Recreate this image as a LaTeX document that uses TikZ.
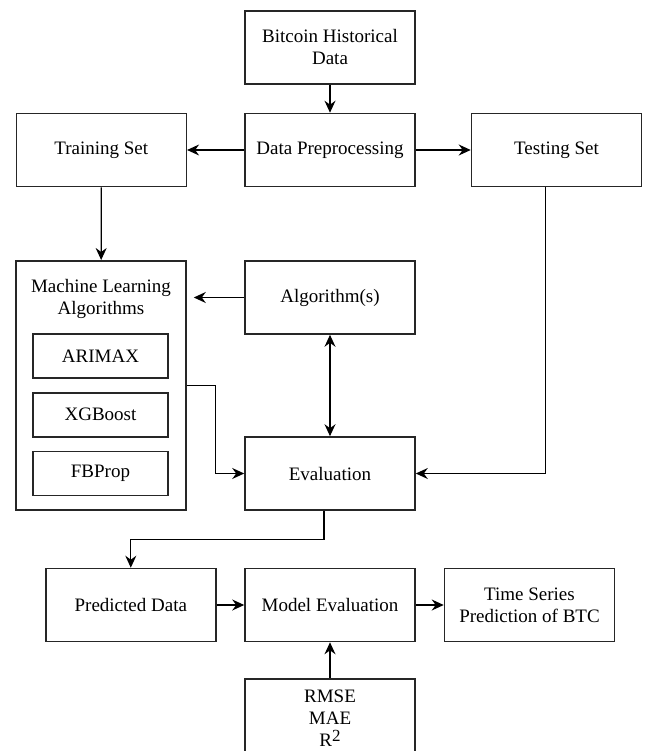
\documentclass[tikz,border=0pt]{standalone}
\usepackage{fontspec}
\setmainfont{Liberation Serif}
\usetikzlibrary{arrows.meta}

\begin{document}
\begin{tikzpicture}[x=1pt, y=-1pt, font=\fontsize{19}{22}\selectfont,
	box/.style={fill=white, draw=black!85, shape=rectangle, line width=1.6pt, minimum width=170, minimum height=73, align=center},
	inbox/.style={box, minimum width=135, minimum height=44},
	link/.style={fill=none, draw=black, line width=1.2pt},
	>={Stealth[length=12pt, width=11pt, inset=4pt]}]
	\useasboundingbox (0, 0) rectangle (646, 751);

	\node [box] (1) at (330, 47.5) {Bitcoin Historical\\Data};
	\node [box] (2) at (330, 150) {Data Preprocessing};
	\node [box] (3) at (101.3, 150) {Training Set};
	\node [box] (4) at (556.5, 150) {Testing Set};

	\node [box, minimum height=249] (5) at (101, 385.3) {};
	\node [align=center] (6) at (101, 299) {Machine Learning\\Algorithms};
	\node [inbox] (7) at (100.5, 356) {ARIMAX};
	\node [inbox] (8) at (100.5, 414.7) {XGBoost};
	\node [inbox] (9) at (100.5, 473.3) {FBProp};

	\node [box] (10) at (330, 297.5) {Algorithm(s)};
	\node [box] (11) at (330, 473.5) {Evaluation};

	\node [box] (12) at (130.8, 605) {Predicted Data};
	\node [box] (13) at (330, 605) {Model Evaluation};
	\node [box] (14) at (529.5, 605) {Time Series\\Prediction of BTC};
	\node [box, minimum height=78] (15) at (330, 718) {RMSE\\MAE\\R\raisebox{5pt}{\fontsize{17}{17}\selectfont 2}};

	\draw [link, ->] (1) to (2);
	\draw [link, ->] (2) to (3);
	\draw [link, ->] (2) to (4);
	\draw [link, ->] (3) to (5);
	\draw [link, ->, shorten >=7pt] (10.west) to (10.west -| 5.east);
	\draw [link, <->] (10) to (11);
	\draw [link, ->] (5.east) -- ++(29, 0) |- (11.west);
	\draw [link, ->] ([xshift=-11pt]4.south) |- (11.east);
	\draw [link, ->] ([xshift=-6pt]11.south) -- ++(0, 29) -| (12.north);
	\draw [link, ->] (12) to (13);
	\draw [link, ->] (13) to (14);
	\draw [link, ->] (15) to (13);
\end{tikzpicture}
\end{document}
